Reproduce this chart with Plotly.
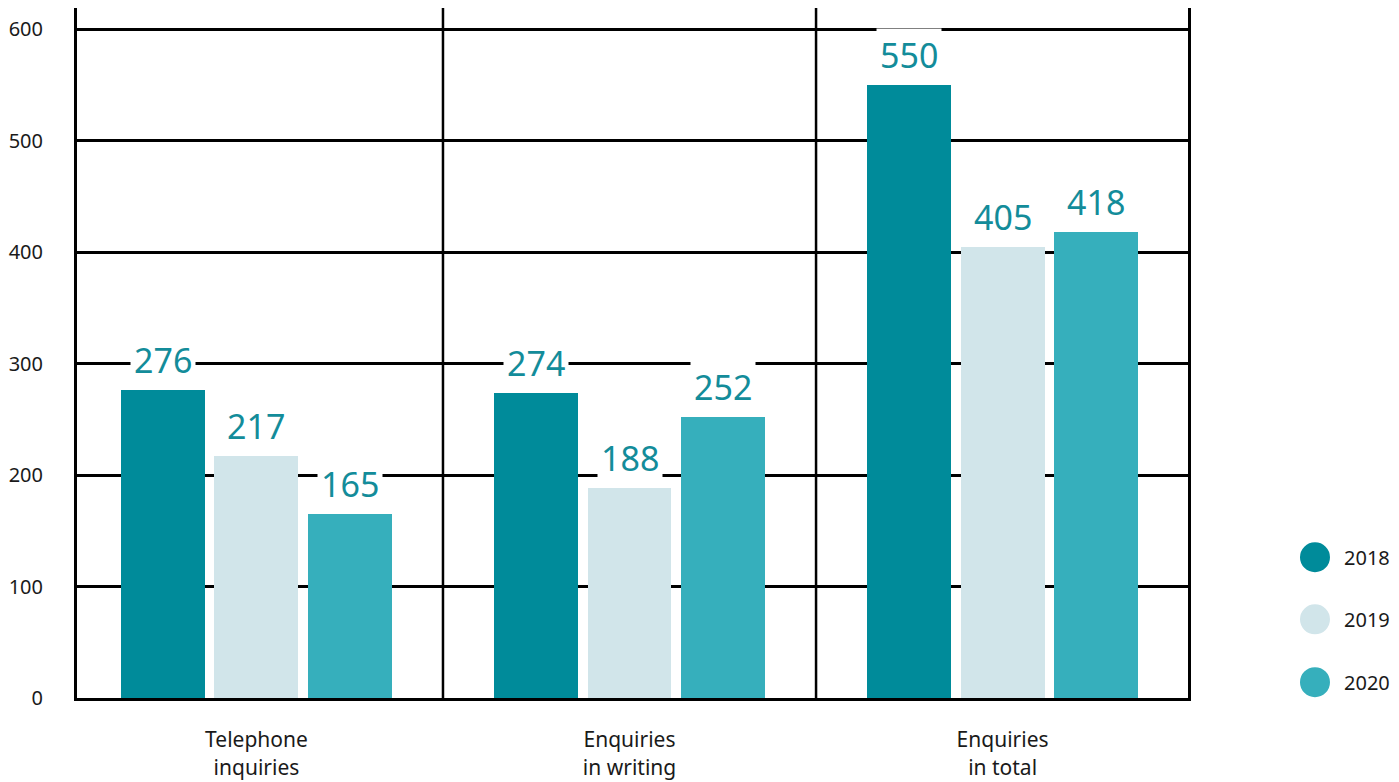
import plotly.graph_objects as go

categories = ["Telephone<br>inquiries", "Enquiries<br>in writing", "Enquiries<br>in total"]
years = ["2018", "2019", "2020"]
values_2018 = [276, 274, 550]
values_2019 = [217, 188, 405]
values_2020 = [165, 252, 418]
series = [values_2018, values_2019, values_2020]
y_ticks = [0, 100, 200, 300, 400, 500, 600]

colors = ["#008B9A", "#D1E5EA", "#36AFBC"]
label_color = "#138C9A"
text_color = "#1A1A1A"
FONT = "Noto Sans"

bar_w = 0.225
step = 0.25
xs = list(range(len(categories)))

fig = go.Figure()
for k, (yr, vals) in enumerate(zip(years, series)):
    off = (k - 1) * step
    fig.add_trace(go.Bar(
        x=xs, y=vals, name=yr, width=bar_w, offset=off - bar_w / 2,
        marker=dict(color=colors[k], line=dict(width=0)), showlegend=False,
    ))
    for i, v in enumerate(vals):
        fig.add_annotation(
            x=i + off, y=v, text=str(v), showarrow=False, yshift=30,
            font=dict(family=FONT, size=34, color=label_color),
            bgcolor="white", borderpad=3,
        )

# category dividers
for i in range(len(categories) - 1):
    fig.add_shape(type="line", xref="x", yref="paper", x0=i + 0.5, x1=i + 0.5,
                  y0=0, y1=1, line=dict(color="black", width=2.5), layer="below")

# legend (manual, large circles)
leg_y = [0.204, 0.114, 0.023]
for k, yr in enumerate(years):
    fig.add_shape(type="circle", xref="paper", yref="paper",
                  xsizemode="pixel", ysizemode="pixel",
                  xanchor=1.1143, yanchor=leg_y[k], x0=-15, x1=15, y0=-15, y1=15,
                  fillcolor=colors[k], line=dict(width=0))
    fig.add_annotation(xref="paper", yref="paper", x=1.1143, y=leg_y[k], xshift=27,
                       xanchor="left", yanchor="middle", text=yr, showarrow=False,
                       font=dict(family=FONT, size=20, color=text_color))

fig.update_layout(
    width=1399, height=782,
    margin=dict(l=77, r=211, t=8, b=84),
    paper_bgcolor="white", plot_bgcolor="white",
    font=dict(family=FONT, size=20, color=text_color),
    bargap=0,
)
fig.update_xaxes(
    range=[-0.481, 2.497], tickvals=xs, ticktext=categories, automargin=False,
    showgrid=False, zeroline=False, showline=True, linecolor="black", linewidth=3,
    ticks="", ticklabelstandoff=21, tickfont=dict(size=21, color=text_color),
)
fig.update_yaxes(
    range=[0, 619], tickvals=y_ticks, showgrid=True, gridcolor="black", gridwidth=2.5,
    zeroline=False, showline=True, mirror=True, linecolor="black", linewidth=3,
    automargin=False,
    ticks="", ticklabelstandoff=27, tickfont=dict(size=20, color=text_color),
)

fig.write_html("out.html", config={"displayModeBar": False},
               post_script="document.body.style.margin='0';")
